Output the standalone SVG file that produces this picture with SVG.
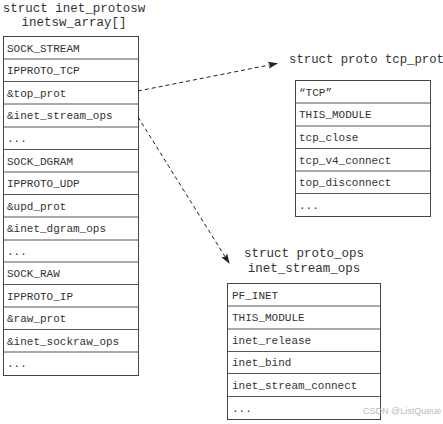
<svg xmlns="http://www.w3.org/2000/svg" width="443" height="424" viewBox="0 0 443 424">
<style>
text{font-family:"Liberation Mono","Courier New",monospace;fill:#333}
.c{font-size:11px}
.t{font-size:12.5px;text-anchor:middle}
.tl{font-size:12.3px}
rect{fill:#fff;stroke:#444;stroke-width:1}
line.r{stroke:#555;stroke-width:1}
.e{stroke:#222;stroke-width:1;stroke-dasharray:4,3;fill:none}
.wm{font-family:"Liberation Sans",Arial,sans-serif;font-size:9px;fill:#bbb}
</style>
<defs>
<marker id="ah" markerWidth="10" markerHeight="8" refX="9" refY="4" orient="auto" markerUnits="userSpaceOnUse">
<path d="M0,0.5 L10,4 L0,7.5 L2,4 z" fill="#222"/>
</marker>
</defs>

<g id="inetsw_array">
<text class="t" x="74" y="12">struct inet_protosw</text>
<text class="t" x="74" y="26">inetsw_array[]</text>
<rect x="3.5" y="36.5" width="135" height="339"/>
<line class="r" x1="3.5" y1="59" x2="138.5" y2="59"/>
<line class="r" x1="3.5" y1="81.5" x2="138.5" y2="81.5"/>
<line class="r" x1="3.5" y1="104" x2="138.5" y2="104"/>
<line class="r" x1="3.5" y1="127" x2="138.5" y2="127"/>
<line class="r" x1="3.5" y1="149.5" x2="138.5" y2="149.5"/>
<line class="r" x1="3.5" y1="172" x2="138.5" y2="172"/>
<line class="r" x1="3.5" y1="194.5" x2="138.5" y2="194.5"/>
<line class="r" x1="3.5" y1="217" x2="138.5" y2="217"/>
<line class="r" x1="3.5" y1="240" x2="138.5" y2="240"/>
<line class="r" x1="3.5" y1="262" x2="138.5" y2="262"/>
<line class="r" x1="3.5" y1="284.5" x2="138.5" y2="284.5"/>
<line class="r" x1="3.5" y1="307" x2="138.5" y2="307"/>
<line class="r" x1="3.5" y1="329.5" x2="138.5" y2="329.5"/>
<line class="r" x1="3.5" y1="352" x2="138.5" y2="352"/>
<text class="c" x="7" y="51.5">SOCK_STREAM</text>
<text class="c" x="7" y="74">IPPROTO_TCP</text>
<text class="c" x="7" y="96.5">&amp;top_prot</text>
<text class="c" x="7" y="119">&amp;inet_stream_ops</text>
<text class="c" x="7" y="142">...</text>
<text class="c" x="7" y="164.5">SOCK_DGRAM</text>
<text class="c" x="7" y="187">IPPROTO_UDP</text>
<text class="c" x="7" y="209.5">&amp;upd_prot</text>
<text class="c" x="7" y="232">&amp;inet_dgram_ops</text>
<text class="c" x="7" y="255">...</text>
<text class="c" x="7" y="277">SOCK_RAW</text>
<text class="c" x="7" y="299.5">IPPROTO_IP</text>
<text class="c" x="7" y="322">&amp;raw_prot</text>
<text class="c" x="7" y="344.5">&amp;inet_sockraw_ops</text>
<text class="c" x="7" y="367">...</text>
</g>

<g id="tcp_prot">
<text class="tl" x="289" y="63">struct proto tcp_prot</text>
<rect x="295.5" y="80.5" width="135" height="136"/>
<line class="r" x1="295.5" y1="103" x2="430.5" y2="103"/>
<line class="r" x1="295.5" y1="126" x2="430.5" y2="126"/>
<line class="r" x1="295.5" y1="148.5" x2="430.5" y2="148.5"/>
<line class="r" x1="295.5" y1="171" x2="430.5" y2="171"/>
<line class="r" x1="295.5" y1="193.5" x2="430.5" y2="193.5"/>
<text class="c" x="299" y="95.5">“TCP”</text>
<text class="c" x="299" y="118">THIS_MODULE</text>
<text class="c" x="299" y="141">tcp_close</text>
<text class="c" x="299" y="163.5">tcp_v4_connect</text>
<text class="c" x="299" y="186">top_disconnect</text>
<text class="c" x="299" y="209">...</text>
</g>

<g id="inet_stream_ops">
<text class="t" x="304" y="257">struct proto_ops</text>
<text class="t" x="304" y="272">inet_stream_ops</text>
<rect x="227.5" y="283.5" width="153" height="136"/>
<line class="r" x1="227.5" y1="306" x2="380.5" y2="306"/>
<line class="r" x1="227.5" y1="329" x2="380.5" y2="329"/>
<line class="r" x1="227.5" y1="351.5" x2="380.5" y2="351.5"/>
<line class="r" x1="227.5" y1="373.5" x2="380.5" y2="373.5"/>
<line class="r" x1="227.5" y1="396.5" x2="380.5" y2="396.5"/>
<text class="c" x="232" y="298.5">PF_INET</text>
<text class="c" x="232" y="321">THIS_MODULE</text>
<text class="c" x="232" y="344">inet_release</text>
<text class="c" x="232" y="366">inet_bind</text>
<text class="c" x="232" y="389">inet_stream_connect</text>
<text class="c" x="232" y="412">...</text>
</g>

<g id="connectors">
<line class="e" x1="138" y1="91" x2="277" y2="63.5" marker-end="url(#ah)"/>
<line class="e" x1="138" y1="117" x2="229" y2="263" marker-end="url(#ah)"/>
</g>

<text class="wm" x="363" y="414">CSDN @ListQueue</text>
</svg>
